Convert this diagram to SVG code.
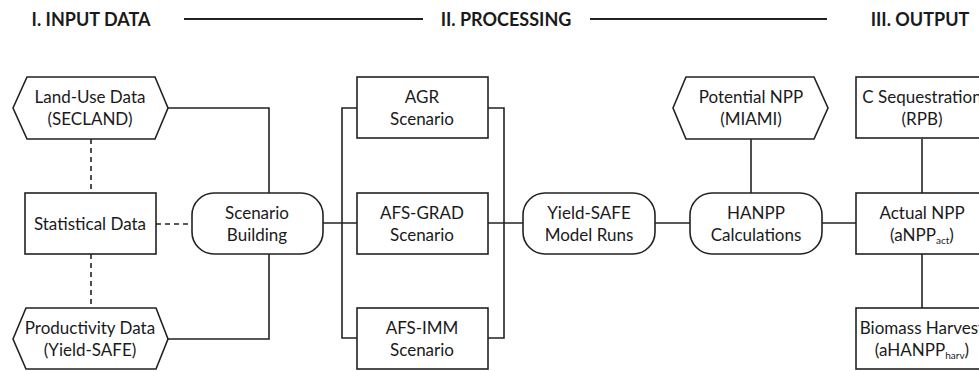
<svg xmlns="http://www.w3.org/2000/svg" width="979" height="371" viewBox="0 0 979 371">
<style>
.n{fill:#fff;stroke:#222;stroke-width:1.6}
.c{fill:none;stroke:#222;stroke-width:1.6}
.d{fill:none;stroke:#222;stroke-width:1.6;stroke-dasharray:5,4}
.h{fill:none;stroke:#222;stroke-width:2}
text{font-family:Lato,"Open Sans",sans-serif;font-size:17px;fill:#1a1a1a;text-anchor:middle}
.t{font-weight:bold;font-size:18px}
.s{font-size:10px}
</style>
<rect width="979" height="371" fill="#fff"/>
<g id="headers">
<text class="t" x="91" y="26">I. INPUT DATA</text>
<text class="t" x="506" y="26">II. PROCESSING</text>
<text class="t" x="920" y="26">III. OUTPUT</text>
<line class="h" x1="184" y1="19" x2="423" y2="19"/>
<line class="h" x1="590" y1="19" x2="827" y2="19"/>
</g>
<g id="connectors">
<polyline class="c" points="168,108 269,108 269,193"/>
<polyline class="c" points="168,339 269,339 269,254"/>
<line class="d" x1="91" y1="139" x2="91" y2="193"/>
<line class="d" x1="91" y1="254" x2="91" y2="308"/>
<line class="d" x1="156" y1="224" x2="192" y2="224"/>
<line class="c" x1="323" y1="223" x2="357" y2="223"/>
<polyline class="c" points="357,108 342,108 342,338 357,338"/>
<polyline class="c" points="488,108 504,108 504,338 488,338"/>
<line class="c" x1="488" y1="223" x2="523" y2="223"/>
<line class="c" x1="655" y1="223" x2="690" y2="223"/>
<line class="c" x1="751" y1="139" x2="751" y2="193"/>
<line class="c" x1="822" y1="223" x2="856" y2="223"/>
<line class="c" x1="922" y1="139" x2="922" y2="193"/>
<line class="c" x1="922" y1="254" x2="922" y2="308"/>
</g>
<g id="land-use">
<polygon class="n" points="13,108 27,77 155,77 168,108 155,139 27,139"/>
<text x="90" y="103">Land-Use Data</text>
<text x="90" y="125">(SECLAND)</text>
</g>
<g id="statistical">
<rect class="n" x="25" y="193" width="131" height="61"/>
<text x="90" y="230">Statistical Data</text>
</g>
<g id="productivity">
<polygon class="n" points="13,339 26,308 156,308 168,339 156,369 26,369"/>
<text x="90" y="334">Productivity Data</text>
<text x="90" y="356">(Yield-SAFE)</text>
</g>
<g id="scenario-building">
<rect class="n" x="192" y="193" width="131" height="61" rx="22"/>
<text x="257" y="219">Scenario</text>
<text x="257" y="241">Building</text>
</g>
<g id="agr">
<rect class="n" x="357" y="77" width="131" height="61"/>
<text x="422" y="103">AGR</text>
<text x="422" y="125">Scenario</text>
</g>
<g id="afs-grad">
<rect class="n" x="357" y="193" width="131" height="61"/>
<text x="422" y="219">AFS-GRAD</text>
<text x="422" y="241">Scenario</text>
</g>
<g id="afs-imm">
<rect class="n" x="357" y="308" width="131" height="61"/>
<text x="422" y="334">AFS-IMM</text>
<text x="422" y="356">Scenario</text>
</g>
<g id="yield-safe">
<rect class="n" x="523" y="193" width="132" height="61" rx="22"/>
<text x="589" y="219">Yield-SAFE</text>
<text x="589" y="241">Model Runs</text>
</g>
<g id="potential-npp">
<polygon class="n" points="673,108 686,77 814,77 828,108 814,139 686,139"/>
<text x="751" y="103">Potential NPP</text>
<text x="751" y="125">(MIAMI)</text>
</g>
<g id="hanpp">
<rect class="n" x="690" y="193" width="132" height="61" rx="22"/>
<text x="756" y="219">HANPP</text>
<text x="756" y="241">Calculations</text>
</g>
<g id="c-seq">
<rect class="n" x="856" y="77" width="132" height="61"/>
<text x="922" y="103">C Sequestration</text>
<text x="922" y="125">(RPB)</text>
</g>
<g id="actual-npp">
<rect class="n" x="856" y="193" width="132" height="61"/>
<text x="922" y="219">Actual NPP</text>
<text x="922" y="241">(aNPP<tspan class="s" dy="3">act</tspan><tspan dy="-3">)</tspan></text>
</g>
<g id="biomass">
<rect class="n" x="856" y="308" width="132" height="61"/>
<text x="922" y="334">Biomass Harvest</text>
<text x="922" y="356">(aHANPP<tspan class="s" dy="3">harv</tspan><tspan dy="-3">)</tspan></text>
</g>
</svg>
